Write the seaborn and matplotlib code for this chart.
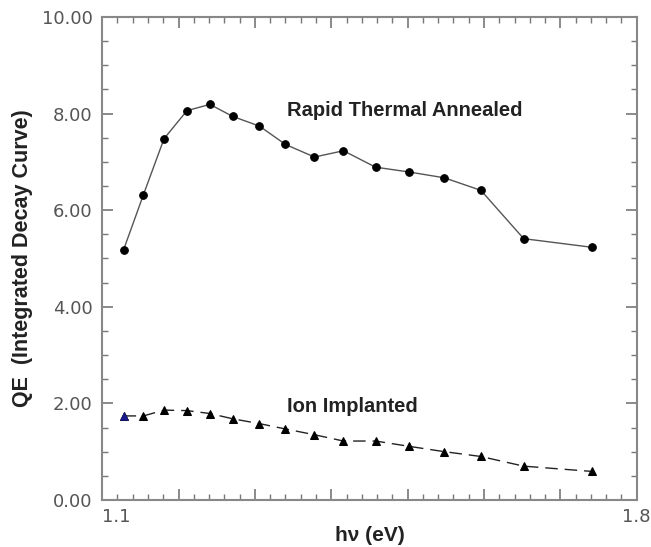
import matplotlib
matplotlib.use("Agg")
import matplotlib.pyplot as plt
from matplotlib.ticker import MultipleLocator, FixedLocator, FuncFormatter
import pandas as pd
import seaborn as sns

# data
hv = [1.128, 1.154, 1.181, 1.211, 1.241, 1.271, 1.306, 1.340,
      1.378, 1.416, 1.458, 1.502, 1.548, 1.596, 1.652, 1.742]
qe_rta = [5.18, 6.32, 7.48, 8.06, 8.19, 7.94, 7.74, 7.36,
          7.10, 7.23, 6.89, 6.79, 6.67, 6.41, 5.41, 5.23]
qe_ion = [1.74, 1.74, 1.86, 1.85, 1.79, 1.68, 1.58, 1.47,
          1.35, 1.22, 1.22, 1.11, 1.00, 0.90, 0.70, 0.59]

df = pd.DataFrame({"hv": hv, "rta": qe_rta, "ion": qe_ion})

sns.set_style("ticks")
plt.rcParams['font.family'] = ['Liberation Sans', 'DejaVu Sans']

fig = plt.figure(figsize=(6.51, 5.47), dpi=100)
ax = fig.add_axes([0.157, 0.086, 0.821, 0.883])

sns.lineplot(data=df, x="hv", y="rta", ax=ax, color="#555555", linewidth=1.0,
             marker="o", markersize=5.5, markerfacecolor="black",
             markeredgecolor="black")
sns.lineplot(data=df, x="hv", y="ion", ax=ax, color="#222222", linewidth=1.0,
             dashes=False, marker="^", markersize=5.5, markerfacecolor="black",
             markeredgecolor="black")
ax.lines[-1].set_dashes((9, 5))
# first ion point drawn in blue in the original
sns.scatterplot(x=df["hv"][:1], y=df["ion"][:1], ax=ax, marker="^", s=30,
                color="#1a1a8c", edgecolor="#1a1a8c", zorder=5)

ax.set_xlim(1.1, 1.8)
ax.set_ylim(0, 10)

ax.xaxis.set_major_locator(FixedLocator([1.1, 1.2, 1.3, 1.4, 1.5, 1.6, 1.7, 1.8]))
ax.xaxis.set_minor_locator(MultipleLocator(0.02))
ax.xaxis.set_major_formatter(FuncFormatter(
    lambda v, p: f"{v:.1f}" if abs(v - 1.1) < 1e-6 or abs(v - 1.8) < 1e-6 else ""))
ax.yaxis.set_major_locator(MultipleLocator(2))
ax.yaxis.set_minor_locator(MultipleLocator(0.5))
ax.yaxis.set_major_formatter(FuncFormatter(lambda v, p: f"{v:.2f}"))

ax.tick_params(axis="both", which="both", direction="in", top=True, right=True,
               colors="#777777", labelcolor="#555555", labelsize=13)
ax.tick_params(axis="both", which="major", length=8, width=1.2)
ax.tick_params(axis="both", which="minor", length=4, width=1.0)
ax.tick_params(axis="y", pad=7)
ax.tick_params(axis="x", pad=6)
for lab in ax.get_xticklabels() + ax.get_yticklabels():
    lab.set_family("DejaVu Sans")
    if lab.get_text() == "1.1":
        lab.set_horizontalalignment("left")

for sp in ax.spines.values():
    sp.set_color("#888888")
    sp.set_linewidth(1.5)

ax.set_xlabel("hν (eV)", fontsize=15, fontweight="bold", labelpad=0,
              color="#222222")
ax.set_ylabel("QE  (Integrated Decay Curve)", fontsize=15.5, fontweight="bold",
              labelpad=6, color="#222222")

ax.text(1.496, 8.06, "Rapid Thermal Annealed", fontsize=14.5, fontweight="bold",
        ha="center", va="center", color="#222222")
ax.text(1.428, 1.94, "Ion Implanted", fontsize=14.5, fontweight="bold",
        ha="center", va="center", color="#222222")

fig.savefig("out.png", dpi=100)
